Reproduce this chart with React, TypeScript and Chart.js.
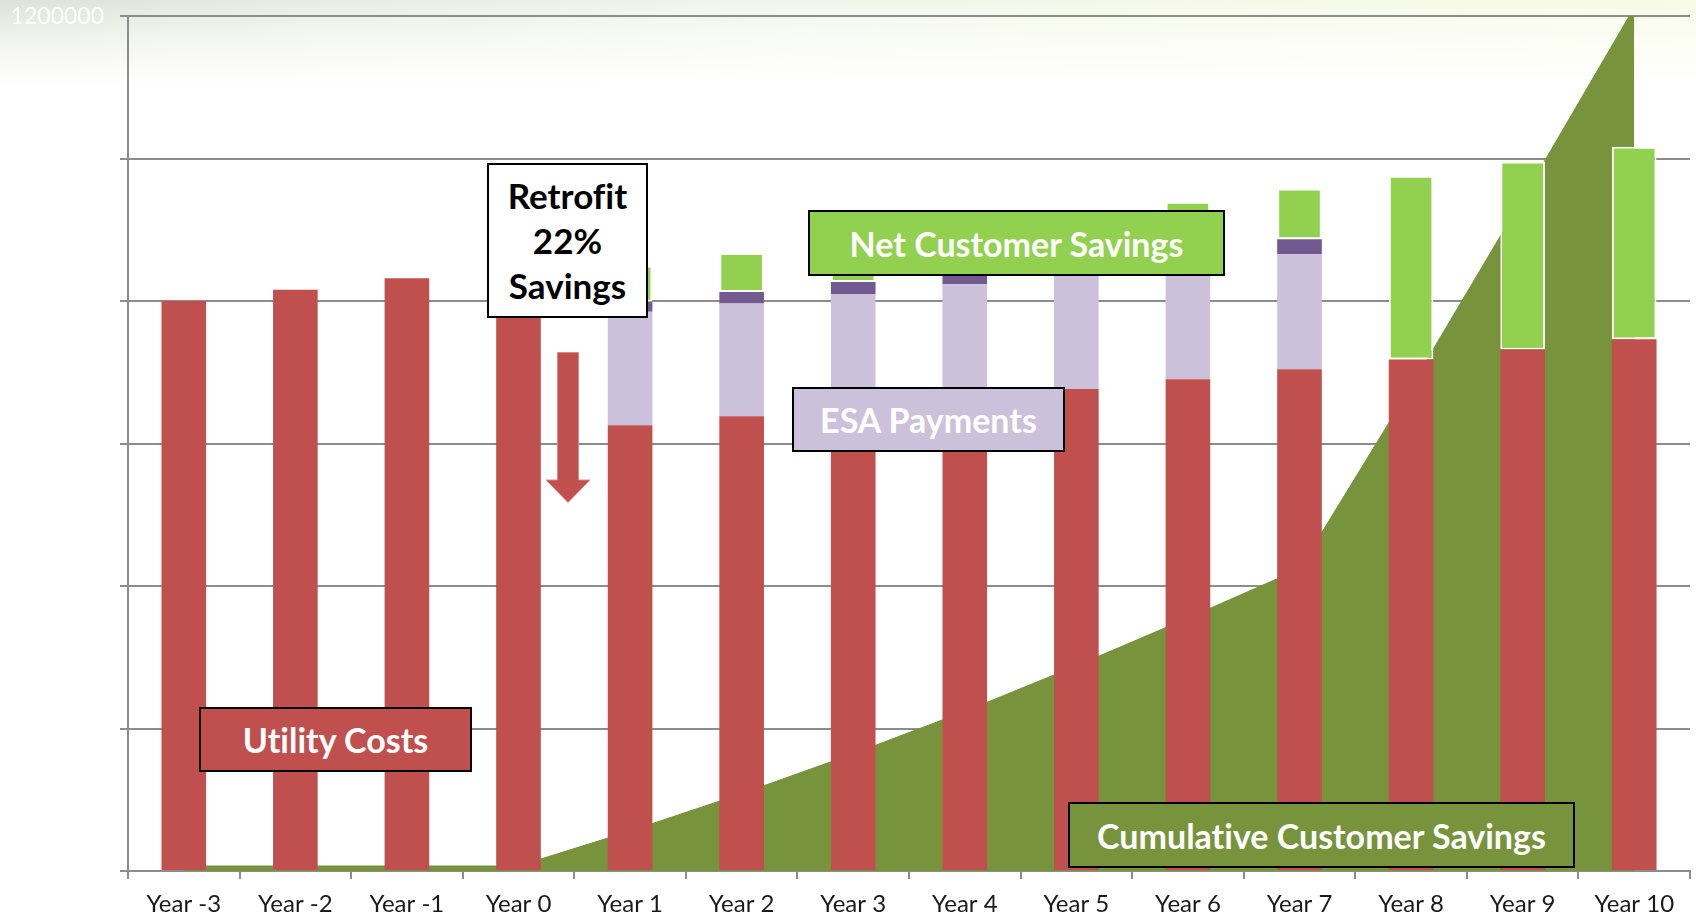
import React, { useEffect, useRef } from "react";
import { Chart, registerables } from "chart.js";

Chart.register(...registerables);

const categories = [
  "Year -3", "Year -2", "Year -1", "Year 0", "Year 1", "Year 2", "Year 3",
  "Year 4", "Year 5", "Year 6", "Year 7", "Year 8", "Year 9", "Year 10",
];

const utilityCosts = [800000, 816000, 832000, 849000, 625800, 638400, 651000, 664000, 676700, 690400, 704400, 718000, 732000, 746500];
const esaPayments = [0, 0, 0, 0, 159100, 158200, 159100, 159700, 160000, 160000, 161500, 0, 0, 0];
const esaFinancing = [0, 0, 0, 0, 14000, 16300, 16800, 17500, 18000, 19000, 21000, 0, 0, 0];
const netCustomerSavings = [0, 0, 0, 0, 51000, 54500, 58000, 62000, 66000, 70000, 71000, 258000, 264000, 270000];
const cumulativeSavings = [7000, 7000, 7000, 7000, 56000, 108500, 164500, 224000, 288000, 355000, 424000, 680000, 944000, 1212000];

const yMax = 1200000;
const yStep = 200000;

const FONT = "Lato, 'Open Sans', sans-serif";

const boxBase: React.CSSProperties = {
  position: "absolute",
  boxSizing: "border-box",
  border: "2px solid #000",
  display: "flex",
  alignItems: "center",
  justifyContent: "center",
  fontFamily: FONT,
  fontWeight: 700,
  color: "#fff",
  whiteSpace: "nowrap",
  fontVariantLigatures: "none",
};

export default function App() {
  const canvasRef = useRef<HTMLCanvasElement | null>(null);

  useEffect(() => {
    document.body.style.margin = "0";
    const ctx = canvasRef.current;
    if (!ctx) return;
    const chart = new Chart(ctx, {
      type: "bar",
      data: {
        labels: categories,
        datasets: [
          {
            type: "bar",
            label: "Utility Costs",
            data: utilityCosts,
            backgroundColor: "#C0504D",
            borderWidth: 0,
            stack: "main",
            order: 1,
          },
          {
            type: "bar",
            label: "ESA Payments",
            data: esaPayments,
            backgroundColor: "#CCC1DA",
            borderWidth: 0,
            stack: "main",
            order: 1,
          },
          {
            type: "bar",
            label: "ESA Financing",
            data: esaFinancing,
            backgroundColor: "#725A91",
            borderWidth: 0,
            stack: "main",
            order: 1,
          },
          {
            type: "bar",
            label: "Net Customer Savings",
            data: netCustomerSavings,
            backgroundColor: "#92D050",
            borderColor: "#ffffff",
            borderWidth: 2,
            borderSkipped: false,
            stack: "main",
            order: 1,
          },
          {
            type: "line",
            label: "Cumulative Customer Savings",
            data: cumulativeSavings,
            backgroundColor: "#77933C",
            borderColor: "#77933C",
            borderWidth: 1,
            pointRadius: 0,
            fill: "origin",
            tension: 0,
            stack: "cum",
            order: 5,
          } as any,
        ],
      },
      options: {
        animation: false,
        responsive: false,
        devicePixelRatio: 1,
        layout: { padding: { top: 0, right: 6, left: 0, bottom: 0 } },
        datasets: {
          bar: { categoryPercentage: 1, barPercentage: 0.4 },
        },
        plugins: {
          legend: { display: false },
          tooltip: { enabled: false },
        },
        scales: {
          x: {
            stacked: true,
            grid: {
              display: true,
              drawOnChartArea: false,
              drawTicks: true,
              tickLength: 8,
              color: "#8c8c8c",
              lineWidth: 2,
              offset: true,
            },
            border: { display: true, color: "#8c8c8c", width: 2 },
            ticks: {
              color: "#1a1a1a",
              font: { family: FONT, size: 24 },
              padding: 11,
              maxRotation: 0,
              autoSkip: false,
            },
            afterFit: (s: any) => {
              s.height = 46;
            },
          },
          y: {
            stacked: true,
            min: 0,
            max: yMax,
            ticks: {
              stepSize: yStep,
              color: "#ffffff",
              font: { family: FONT, size: 23, lineHeight: 0.01 },
              padding: 16,
              callback: (v: any) => String(v),
            },
            grid: {
              color: "#8c8c8c",
              lineWidth: 2,
              tickLength: 8,
            },
            border: { display: true, color: "#8c8c8c", width: 2 },
            afterFit: (s: any) => {
              s.width = 128;
            },
          },
        },
      },
    });
    return () => chart.destroy();
  }, []);

  return (
    <div
      style={{
        position: "fixed",
        left: 0,
        top: 0,
        width: 1696,
        height: 917,
        overflow: "hidden",
        background:
          "linear-gradient(to bottom, rgba(255,255,255,0) 0px, rgba(255,255,255,0.6) 40px, #ffffff 85px), linear-gradient(to right, #dde2d6 0px, #e8ece0 300px, #f2f6ea 800px, #f5f9e6 1300px, #f7fbe6 1696px)",
      }}
    >
      <canvas ref={canvasRef} width={1696} height={917} style={{ position: "absolute", left: 0, top: 0, width: 1696, height: 917 }} />

      <svg width={1696} height={917} style={{ position: "absolute", left: 0, top: 0, pointerEvents: "none" }}>
        <polygon
          points="557.5,352.5 578.5,352.5 578.5,480 590,480 568,502.5 546,480 557.5,480"
          fill="#C0504D"
          stroke="#d98a88"
          strokeWidth={1}
        />
      </svg>

      <div
        style={{
          ...boxBase,
          left: 487,
          top: 163,
          width: 161,
          height: 155,
          background: "#ffffff",
          color: "#000",
          flexDirection: "column",
          fontSize: 35,
          lineHeight: "45px",
        }}
      >
        <div>Retrofit</div>
        <div>22%</div>
        <div>Savings</div>
      </div>

      <div style={{ ...boxBase, left: 808, top: 210, width: 417, height: 66, background: "#92D050", fontSize: 34 }}>
        Net Customer Savings
      </div>

      <div style={{ ...boxBase, left: 792, top: 387, width: 273, height: 65, background: "#CCC1DA", fontSize: 34 }}>
        ESA Payments
      </div>

      <div style={{ ...boxBase, left: 199, top: 707, width: 273, height: 65, background: "#C0504D", fontSize: 34 }}>
        Utility Costs
      </div>

      <div style={{ ...boxBase, left: 1068, top: 802, width: 507, height: 66, background: "#77933C", fontSize: 34 }}>
        Cumulative Customer Savings
      </div>
    </div>
  );
}
